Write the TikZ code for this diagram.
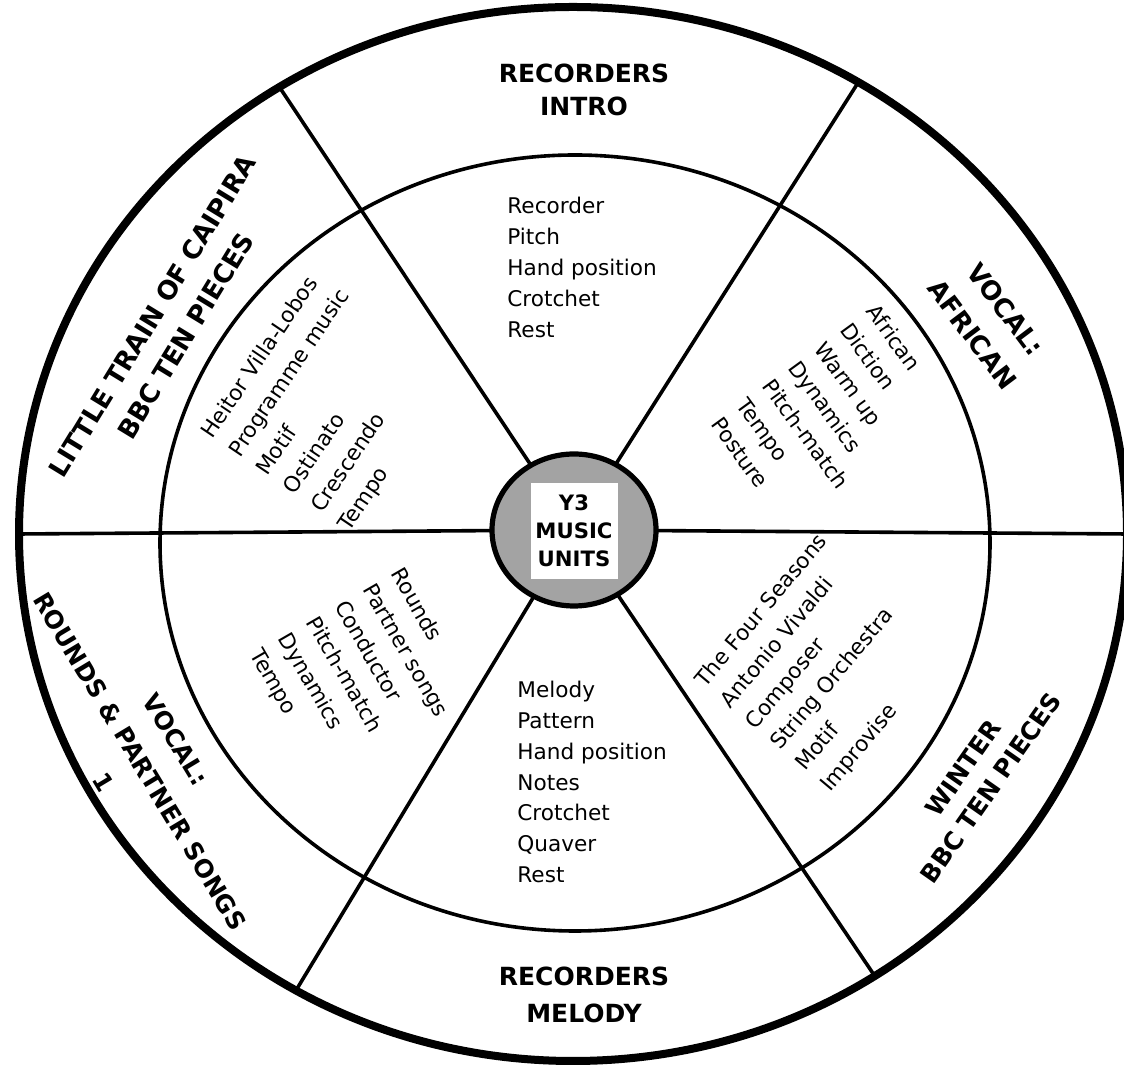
\documentclass[tikz,border=0pt]{standalone}
\usepackage{fontspec}
\setmainfont{DejaVu Sans}
\usetikzlibrary{calc}
\definecolor{hubgray}{gray}{0.64}
\newcommand{\rimrx}{554}
\newcommand{\rimry}{527}

\tikzset{
  rim/.style={line width=4pt},
  ring/.style={line width=1.8pt},
  spoke/.style={line width=1.8pt},
  unit/.style={align=center, inner sep=0pt},
  topics/.style={align=left, inner sep=0pt, anchor=west},
}

\begin{document}
\begin{tikzpicture}[x=0.5pt,y=0.5pt]
\useasboundingbox (0,0) rectangle (1124,1070);

%% Centres of the wheel
\coordinate (ctr) at (573,536);
\coordinate (inner ctr) at (575,527);
\coordinate (hub) at (574,540);

%% Spokes from the hub out to the rim
\foreach \a in {0,59,122,180,240,303} {
  \coordinate (rim-\a) at ($(ctr)+({\rimrx*cos(\a)},{\rimry*sin(\a)})$);
  \draw[spoke] (hub) -- (rim-\a);
}

%% Rim and inner ring
\draw[rim] (ctr) ellipse [x radius=\rimrx, y radius=\rimry];
\draw[ring] (inner ctr) ellipse [x radius=415, y radius=388];

%% Hub with the title box
\filldraw[fill=hubgray, line width=2.6pt] (hub) ellipse [x radius=82, y radius=76];
\node[fill=white, minimum width=43.5pt, minimum height=48pt, inner sep=0pt, align=center,
      font=\bfseries\fontsize{10.6}{14}\selectfont] (title) at (574,539) {Y3\\MUSIC\\UNITS};

%% Unit names round the rim
\node[unit, font=\bfseries\fontsize{12.5}{16.5}\selectfont] (intro) at (584,980) {RECORDERS\\INTRO};
\node[unit, font=\bfseries\fontsize{12.5}{18.5}\selectfont] (melody) at (584,75) {RECORDERS\\MELODY};
\node[unit, rotate=58.6, font=\bfseries\fontsize{13}{19.4}\selectfont] (caipira) at (169,744) {LITTLE TRAIN OF CAIPIRA\\BBC TEN PIECES};
\node[unit, rotate=-53, font=\bfseries\fontsize{13}{20.8}\selectfont] (african) at (989,748) {VOCAL:\\AFRICAN};
\node[unit, rotate=-59, font=\bfseries\fontsize{12.3}{21}\selectfont] (rounds) at (140,309) {VOCAL:\\ROUNDS \& PARTNER SONGS\\1};
\node[unit, rotate=55, font=\bfseries\fontsize{12.4}{17}\selectfont] (winter) at (977,292) {WINTER\\BBC TEN PIECES};

%% Topics inside the ring
\node[topics, font=\fontsize{10.8}{15.5}\selectfont] (intro list) at (507,803) {Recorder\\Pitch\\Hand position\\Crotchet\\Rest};
\node[topics, font=\fontsize{10.8}{15.4}\selectfont] (melody list) at (517,288) {Melody\\Pattern\\Hand position\\Notes\\Crotchet\\Quaver\\Rest};
\node[topics, rotate=56, font=\fontsize{10.8}{16.5}\selectfont] (caipira list) at (276,587) {Heitor Villa-Lobos\\Programme music\\Motif\\Ostinato\\Crescendo\\Tempo};
\node[topics, rotate=-54, font=\fontsize{10.8}{16}\selectfont] (african list) at (794,707) {African\\Diction\\Warm up\\Dynamics\\Pitch-match\\Tempo\\Posture};
\node[topics, rotate=-60, font=\fontsize{10.8}{16.25}\selectfont] (rounds list) at (325,459) {Rounds\\Partner songs\\Conductor\\Pitch-match\\Dynamics\\Tempo};
\node[topics, rotate=50, font=\fontsize{10.8}{16.3}\selectfont] (winter list) at (763,333) {The Four Seasons\\Antonio Vivaldi\\Composer\\String Orchestra\\Motif\\Improvise};

\end{tikzpicture}
\end{document}
